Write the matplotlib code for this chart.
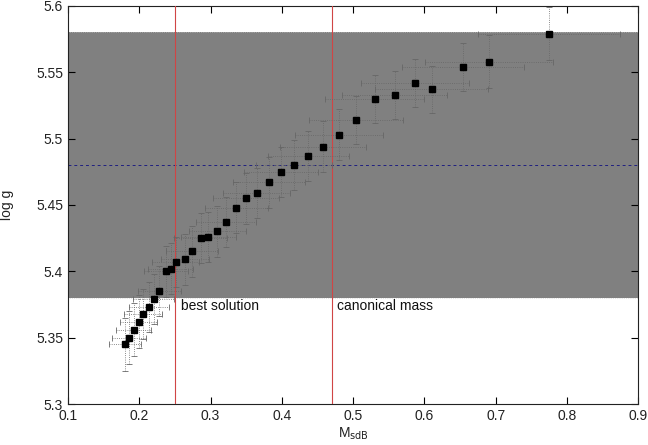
import numpy as np
import matplotlib.pyplot as plt

plt.rcParams['font.family'] = ['Liberation Sans', 'DejaVu Sans']

# mass of the sdB star and log g
mass = [0.180, 0.186, 0.192, 0.199, 0.205, 0.213, 0.220, 0.228, 0.237, 0.244,
        0.251, 0.264, 0.274, 0.286, 0.297, 0.309, 0.322, 0.336, 0.350, 0.365,
        0.382, 0.399, 0.417, 0.437, 0.458, 0.480, 0.504, 0.530, 0.558, 0.587,
        0.610, 0.654, 0.691, 0.775]
logg = [5.345, 5.350, 5.356, 5.362, 5.368, 5.373, 5.379, 5.385, 5.400, 5.402,
        5.407, 5.409, 5.415, 5.425, 5.426, 5.430, 5.437, 5.448, 5.455, 5.459,
        5.467, 5.475, 5.480, 5.487, 5.494, 5.503, 5.514, 5.530, 5.533, 5.542,
        5.537, 5.554, 5.558, 5.579]
mass_err = [0.023, 0.024, 0.025, 0.026, 0.027, 0.028, 0.029, 0.030, 0.031, 0.032,
            0.033, 0.034, 0.036, 0.037, 0.039, 0.040, 0.042, 0.044, 0.046, 0.047,
            0.050, 0.052, 0.054, 0.057, 0.060, 0.062, 0.066, 0.069, 0.073, 0.076,
            0.079, 0.085, 0.090, 0.100]
logg_err = [0.020, 0.020, 0.020, 0.020, 0.019, 0.019, 0.019, 0.019, 0.019, 0.019,
            0.019, 0.019, 0.019, 0.019, 0.019, 0.019, 0.019, 0.019, 0.019, 0.019,
            0.019, 0.019, 0.019, 0.019, 0.019, 0.019, 0.018, 0.018, 0.018, 0.018,
            0.018, 0.018, 0.020, 0.020]

logg_obs = 5.48
logg_lo, logg_hi = 5.38, 5.58
best_mass = 0.25
canon_mass = 0.47

fig = plt.figure(figsize=(6.48, 4.45), dpi=100)
ax = fig.add_axes([0.105, 0.092, 0.88, 0.895])

ax.axhspan(logg_lo, logg_hi, color='#808080', zorder=0, lw=0)
ax.axhline(logg_lo, color='#c8c8c8', lw=0.5, ls=':', zorder=1)
ax.axhline(logg_hi, color='#c8c8c8', lw=0.5, ls=':', zorder=1)
ax.axhline(logg_obs, color='#202080', lw=0.7, ls=(0, (3, 3)), zorder=2)

ax.axvline(best_mass, color='#d04545', lw=0.8, zorder=3)
ax.axvline(canon_mass, color='#d04545', lw=0.8, zorder=3)

eb = ax.errorbar(mass, logg, xerr=mass_err, yerr=logg_err, fmt='none',
                 ecolor='0.4', elinewidth=0.6, capsize=2, capthick=0.6, zorder=4)
for c in eb[2]:
    c.set_linestyle(':')

ax.plot(mass, logg, 's', color='black', markersize=5, zorder=5)

ax.text(0.258, 5.3735, 'best solution', fontsize=10, va='center', color='#111111')
ax.text(0.477, 5.3735, 'canonical mass', fontsize=10, va='center', color='#111111')

ax.set_xlim(0.1, 0.9)
ax.set_ylim(5.3, 5.6)
ax.set_xticks(np.arange(0.1, 0.91, 0.1))
ax.set_xticklabels(['0.1', '0.2', '0.3', '0.4', '0.5', '0.6', '0.7', '0.8', '0.9'])
ax.set_yticks([5.3, 5.35, 5.4, 5.45, 5.5, 5.55, 5.6])
ax.set_yticklabels(['5.3', '5.35', '5.4', '5.45', '5.5', '5.55', '5.6'])
ax.tick_params(direction='in', top=True, right=True, length=5, labelsize=10,
               labelcolor='#222222')
for s in ax.spines.values():
    s.set_color('#222222')
ax.set_xlabel('M$_{\\rm sdB}$', fontsize=10, color='#222222', labelpad=2)
ax.set_ylabel('log g', fontsize=10, color='#222222', labelpad=16)

fig.savefig('out.png', dpi=100)
